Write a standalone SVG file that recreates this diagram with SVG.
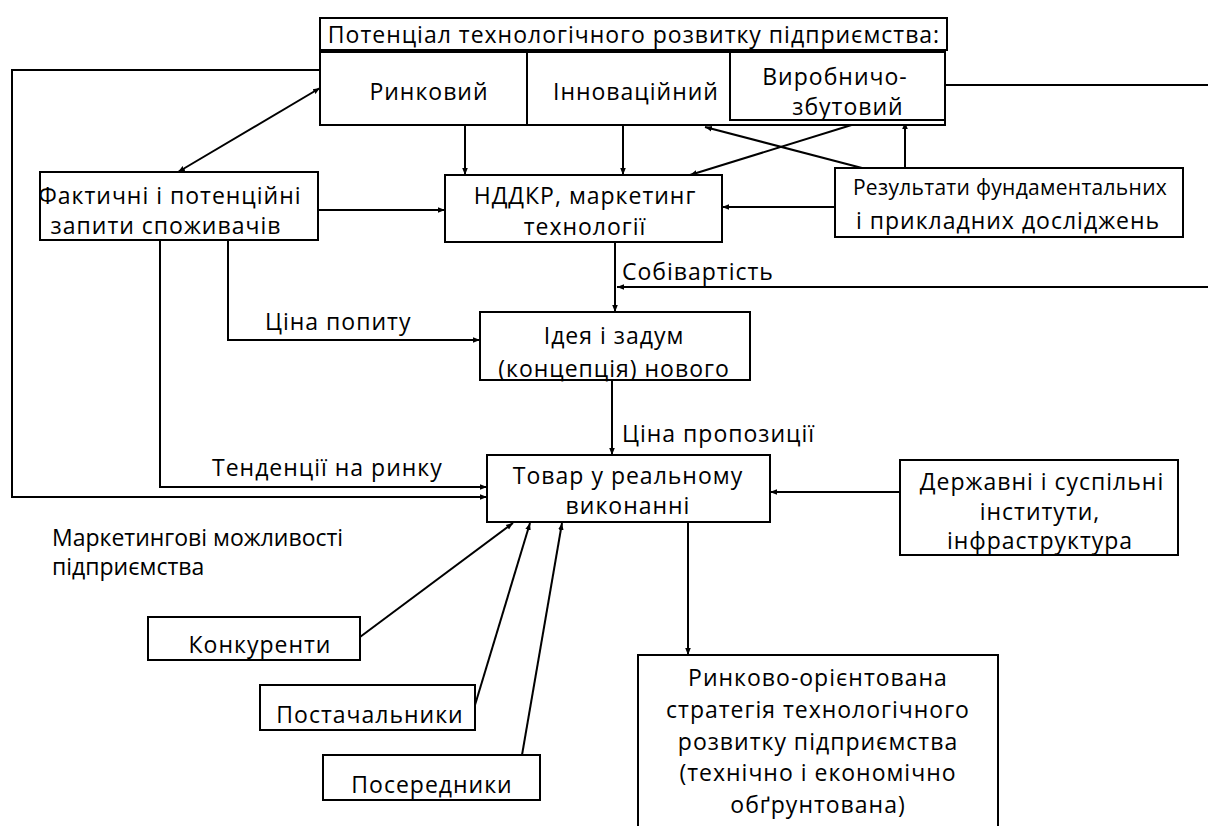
<svg xmlns="http://www.w3.org/2000/svg" width="1208" height="826" viewBox="0 0 1208 826">
<style>
rect.b{fill:#fff;stroke:#000;stroke-width:2}
text{font-family:"Open Sans","Noto Sans",sans-serif;font-size:23px;letter-spacing:1px;fill:#000}
.c{text-anchor:middle}
.s{font-size:21px;letter-spacing:0.3px}
.n{letter-spacing:0}
.l{stroke:#000;stroke-width:2;fill:none}
</style>
<defs>
<marker id="a" viewBox="0 0 10 10" refX="10" refY="5" markerWidth="7" markerHeight="7" orient="auto-start-reverse" markerUnits="userSpaceOnUse">
<path d="M0,1 L10,5 L0,9 z" fill="#000"/>
</marker>
</defs>
<rect width="1208" height="826" fill="#fff"/>
<g id="connectors">
<polyline class="l" points="320,70 12,70 12,497 487,497" marker-end="url(#a)"/>
<line class="l" x1="945" y1="85" x2="1208" y2="85"/>
<line class="l" x1="320" y1="88" x2="178" y2="172" marker-start="url(#a)" marker-end="url(#a)"/>
<line class="l" x1="318" y1="210" x2="445" y2="210" marker-end="url(#a)"/>
<polyline class="l" points="160,240 160,487 487,487" marker-end="url(#a)"/>
<polyline class="l" points="228,240 228,340 480,340" marker-end="url(#a)"/>
<line class="l" x1="465" y1="125" x2="465" y2="175" marker-end="url(#a)"/>
<line class="l" x1="623" y1="125" x2="623" y2="175" marker-end="url(#a)"/>
<line class="l" x1="858" y1="123" x2="690" y2="175" marker-end="url(#a)"/>
<line class="l" x1="862" y1="168" x2="705" y2="127" marker-end="url(#a)"/>
<line class="l" x1="905" y1="168" x2="905" y2="122" marker-end="url(#a)"/>
<line class="l" x1="835" y1="207" x2="722" y2="207" marker-end="url(#a)"/>
<line class="l" x1="615" y1="242" x2="615" y2="312" marker-end="url(#a)"/>
<line class="l" x1="1208" y1="287" x2="617" y2="287" marker-end="url(#a)"/>
<line class="l" x1="612" y1="380" x2="612" y2="455" marker-end="url(#a)"/>
<line class="l" x1="900" y1="492" x2="770" y2="492" marker-end="url(#a)"/>
<line class="l" x1="360" y1="637" x2="513" y2="523" marker-end="url(#a)"/>
<line class="l" x1="475" y1="705" x2="530" y2="523" marker-end="url(#a)"/>
<line class="l" x1="522" y1="755" x2="562" y2="523" marker-end="url(#a)"/>
<line class="l" x1="688" y1="522" x2="688" y2="655" marker-end="url(#a)"/>
</g>
<g id="title">
<rect class="b" x="320" y="18" width="627" height="32"/>
<text class="c" x="634" y="43">Потенціал технологічного розвитку підприємства:</text>
</g>
<g id="potential">
<rect class="b" x="320" y="52" width="625" height="73"/>
<line class="l" x1="527" y1="52" x2="527" y2="125"/>
<text class="c" x="429" y="100">Ринковий</text>
<text class="c" x="636" y="100">Інноваційний</text>
</g>
<g id="vyrobnycho">
<rect class="b" x="730" y="52" width="215" height="68"/>
<text class="c" x="835" y="85">Виробничо-</text>
<text class="c" x="848" y="115">збутовий</text>
</g>
<g id="zapyty">
<rect class="b" x="40" y="172" width="278" height="68"/>
<text class="c" x="170" y="204">Фактичні і потенційні</text>
<text class="c" x="166" y="234">запити споживачів</text>
</g>
<g id="ndkr">
<rect class="b" x="445" y="175" width="277" height="67"/>
<text class="c" x="585" y="204">НДДКР, маркетинг</text>
<text class="c" x="585" y="235">технології</text>
</g>
<g id="rezultaty">
<rect class="b" x="835" y="168" width="348" height="69"/>
<text class="c s" x="1010" y="195">Результати фундаментальних</text>
<text class="c" x="1008" y="229">і прикладних досліджень</text>
</g>
<text x="622" y="280">Собівартість</text>
<text x="265" y="330">Ціна попиту</text>
<g id="ideya">
<rect class="b" x="480" y="312" width="270" height="68"/>
<text class="c" x="614" y="344">Ідея і задум</text>
<text class="c" x="614" y="377">(концепція) нового</text>
</g>
<text x="622" y="442">Ціна пропозиції</text>
<text x="212" y="476">Тенденції на ринку</text>
<g id="tovar">
<rect class="b" x="487" y="455" width="283" height="67"/>
<text class="c" x="628" y="484">Товар у реальному</text>
<text class="c" x="628" y="514">виконанні</text>
</g>
<g id="derzhavni">
<rect class="b" x="900" y="460" width="278" height="95"/>
<text class="c" x="1042" y="490">Державні і суспільні</text>
<text class="c" x="1040" y="520">інститути,</text>
<text class="c" x="1040" y="549">інфраструктура</text>
</g>
<text class="n" x="52" y="546">Маркетингові можливості</text>
<text class="n" x="52" y="575">підприємства</text>
<g id="konkurenty">
<rect class="b" x="148" y="617" width="212" height="43"/>
<text class="c" x="260" y="653">Конкуренти</text>
</g>
<g id="postachalnyky">
<rect class="b" x="260" y="685" width="215" height="45"/>
<text class="c" x="370" y="723">Постачальники</text>
</g>
<g id="poserednyky">
<rect class="b" x="323" y="755" width="217" height="45"/>
<text class="c" x="432" y="793">Посередники</text>
</g>
<g id="strategy">
<rect class="b" x="638" y="655" width="360" height="180"/>
<text class="c" x="818" y="686">Ринково-орієнтована</text>
<text class="c" x="818" y="718">стратегія технологічного</text>
<text class="c" x="818" y="750">розвитку підприємства</text>
<text class="c" x="818" y="781">(технічно і економічно</text>
<text class="c" x="818" y="813">обґрунтована)</text>
</g>
</svg>
